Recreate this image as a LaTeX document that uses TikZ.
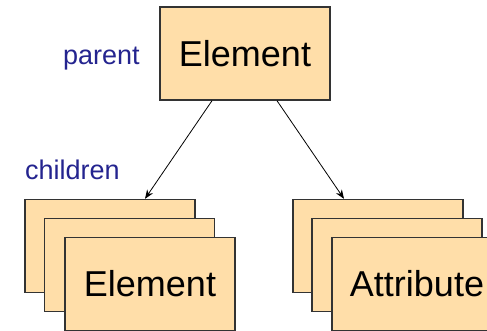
\documentclass[tikz,border=0pt]{standalone}
\usepackage{fontspec}
\setmainfont{Liberation Sans}
\usetikzlibrary{arrows.meta}
\definecolor{boxfill}{HTML}{FFDEA9}
\definecolor{boxline}{HTML}{333333}
\definecolor{labelblue}{HTML}{24248F}
\tikzset{
  card/.style={draw=boxline, line width=1.4pt, fill=boxfill,
    minimum width=170pt, minimum height=93pt, inner sep=0pt,
    font=\fontsize{36}{40}\selectfont},
  rolelabel/.style={text=labelblue, inner sep=0pt,
    font=\fontsize{27}{30}\selectfont},
  link/.style={draw=black, line width=0.8pt, -{Stealth[length=9pt,width=7pt]}}
}
\begin{document}
\begin{tikzpicture}[x=1pt, y=-1pt]
  \useasboundingbox (0,0) rectangle (487,331);
  \clip (0,0) rectangle (487,331);

  % parent element
  \node[card] (top) at (245,53.5) {Element};
  \node[rolelabel, anchor=base west] (parentlbl) at (63,65) {parent};
  \node[rolelabel, anchor=base west] (childlbl) at (25,180) {children};

  % stack of child elements
  \node[card] (a1) at (110,246) {};
  \node[card] (a2) at (129.5,265) {};
  \node[card] (a3) at (150,284) {Element};

  % stack of attributes
  \node[card] (b1) at (378,246) {};
  \node[card] (b2) at (397,265) {};
  \node[card] (b3) at (417,284) {Attribute};

  % links from parent to the children
  \draw[link] ([xshift=-33pt]top.south) -- ([xshift=35pt]a1.north);
  \draw[link] ([xshift=32pt]top.south) -- ([xshift=-34pt]b1.north);
\end{tikzpicture}
\end{document}
